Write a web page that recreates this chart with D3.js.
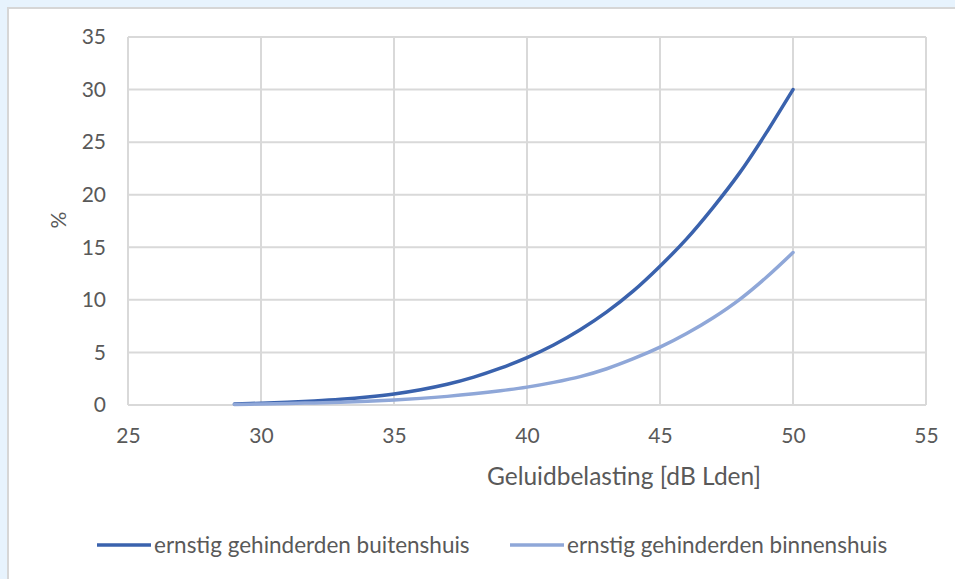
<!DOCTYPE html>
<html>
<head>
<meta charset="utf-8">
<script src="https://cdn.jsdelivr.net/npm/d3@7"></script>
<style>
  body { margin: 0; background: #e7f3fd; }
  svg { display: block; }
  text { font-family: Lato, "Open Sans", sans-serif; fill: #595959; }
  .grid line { stroke: #d9d9d9; stroke-width: 2; }
  .tick text { font-size: 21px; }
</style>
</head>
<body>
<svg id="chart" width="955" height="579"></svg>
<script>
// data
const dB = [29,30,31,32,33,34,35,36,37,38,39,40,41,42,43,44,45,46,47,48,49,50]
const buitenshuis = [0.1,0.17,0.26,0.38,0.54,0.76,1.05,1.45,1.97,2.65,3.5,4.5,5.7,7.15,8.85,10.85,13.2,15.8,18.8,22.1,25.9,30.0]
const binnenshuis = [0.05,0.1,0.15,0.2,0.27,0.36,0.48,0.63,0.82,1.06,1.35,1.7,2.15,2.7,3.45,4.4,5.5,6.8,8.3,10.05,12.15,14.5]
const xTicks = [25,30,35,40,45,50,55]
const yTicks = [0,5,10,15,20,25,30,35]
const seriesNames = ["ernstig gehinderden buitenshuis","ernstig gehinderden binnenshuis"]
const seriesColors = ["#3a62ad","#8fa7d8"]

let svg = d3.select("#chart")

// white card with grey border
svg.append("rect").attr("x",8).attr("y",8).attr("width",960).attr("height",600)
    .attr("fill","#fff").attr("stroke","#d6d6d6").attr("stroke-width",2)

let xScale = d3.scaleLinear().domain([25,55]).range([128,926])
let yScale = d3.scaleLinear().domain([0,35]).range([405,37])

// gridlines
let grid = svg.append("g").attr("class","grid")
grid.selectAll(".h").data(yTicks).enter().append("line")
    .attr("x1",xScale(25)).attr("x2",xScale(55))
    .attr("y1",d=>yScale(d)).attr("y2",d=>yScale(d))
grid.selectAll(".v").data(xTicks).enter().append("line")
    .attr("x1",d=>xScale(d)).attr("x2",d=>xScale(d))
    .attr("y1",yScale(0)).attr("y2",yScale(35))

// axes (labels only)
let x_axis = d3.axisBottom(xScale).tickValues(xTicks).tickSize(0).tickPadding(23)
let y_axis = d3.axisLeft(yScale).tickValues(yTicks).tickSize(0).tickPadding(22)
svg.append("g").attr("transform",`translate(0,${yScale(0)})`).call(x_axis)
    .call(g=>g.select(".domain").remove())
svg.append("g").attr("transform",`translate(${xScale(25)},0)`).call(y_axis)
    .call(g=>g.select(".domain").remove())

// axis titles
svg.append("text").attr("x",624).attr("y",485).attr("text-anchor","middle")
    .style("font-size","24.5px").text("Geluidbelasting [dB Lden]")
svg.append("g").attr("transform","translate(66,220) rotate(-90)")
    .append("text").attr("text-anchor","middle").style("font-size","21px").text("%")

// lines
let line = d3.line().x((d,i)=>xScale(dB[i])).y(d=>yScale(d)).curve(d3.curveCatmullRom)
;[buitenshuis,binnenshuis].forEach(function(s,i){
    svg.append("path").datum(s).attr("d",line).attr("fill","none")
        .attr("stroke",seriesColors[i]).attr("stroke-width",3.5)
        .attr("stroke-linecap","round")
})

// legend
let legendX = [97,510]
seriesNames.forEach(function(d,i){
    let lg = svg.append("g").attr("transform",`translate(${legendX[i]},545)`)
    lg.append("line").attr("x1",0).attr("x2",54).attr("stroke",seriesColors[i]).attr("stroke-width",3.5)
    lg.append("text").attr("x",57).attr("dy","0.35em").style("font-size","22.5px").text(d)
})
</script>
</body>
</html>
